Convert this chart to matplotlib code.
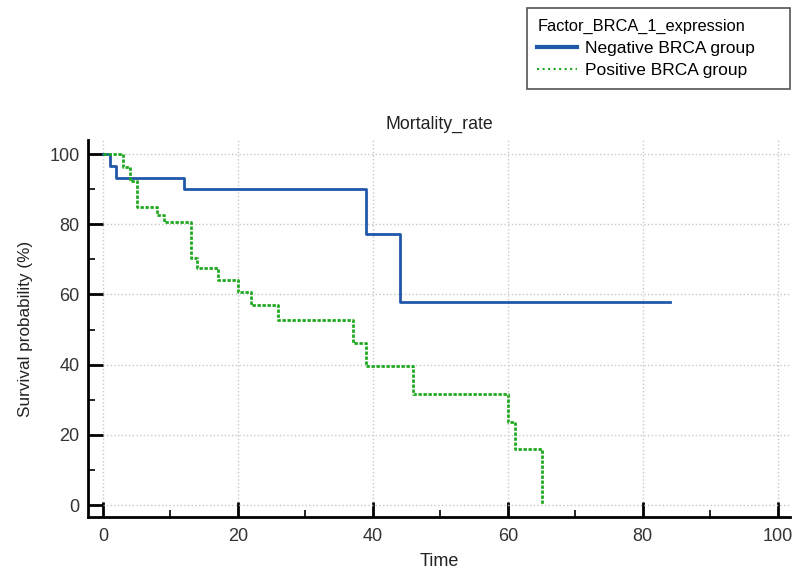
import matplotlib
matplotlib.use("Agg")
import matplotlib.pyplot as plt

plt.rcParams['font.family'] = ['Liberation Sans', 'DejaVu Sans']

# Kaplan-Meier steps
neg_time = [0, 1, 2, 12, 39, 44, 84]
neg_surv = [100, 96.7, 93.3, 90.0, 77.1, 57.8, 57.8]

pos_time = [0, 3, 4, 5, 8, 9, 13, 14, 17, 20, 22, 26, 37, 39, 46, 60, 61, 65]
pos_surv = [100, 96.2, 92.3, 84.9, 82.7, 80.5, 70.5, 67.5, 64.1, 60.6, 57.0,
            52.7, 46.3, 39.6, 31.7, 23.7, 15.9, 0]

x_ticks = [0, 20, 40, 60, 80, 100]
y_ticks = [0, 20, 40, 60, 80, 100]

fig = plt.figure(figsize=(7.94, 5.73), dpi=100)
ax = fig.add_axes([0.1108, 0.0977, 0.884, 0.658])

l1, = ax.step(neg_time, neg_surv, where='post', color='#2157a8', lw=2,
              label='Negative BRCA group')
l2, = ax.step(pos_time, pos_surv, where='post', color='#1fa81f', lw=2,
              ls=(0, (1.2, 0.6)), label='Positive BRCA group', clip_on=False)

ax.set_xlim(-2.2, 101.8)
ax.set_ylim(-3.4, 104)
ax.set_xticks(x_ticks)
ax.set_yticks(y_ticks)
ax.set_xticks([10, 30, 50, 70, 90], minor=True)
ax.set_yticks([10, 30, 50, 70, 90], minor=True)
ax.tick_params(which='major', direction='in', length=11, width=2, labelsize=13,
               labelcolor='#333333')
ax.tick_params(which='minor', direction='in', length=5, width=1.2)
ax.tick_params(axis='x', which='major', pad=8)
ax.tick_params(axis='y', which='major', pad=6)
for s in ['top', 'right']:
    ax.spines[s].set_visible(False)
for s in ['left', 'bottom']:
    ax.spines[s].set_linewidth(2)

ax.grid(True, which='major', color='#c8c8c8', ls=':', lw=1)
ax.set_axisbelow(True)

ax.set_title('Mortality_rate', fontsize=12.8, color='#222222', pad=8)
ax.set_xlabel('Time', fontsize=13, color='#222222', labelpad=6)
ax.set_ylabel('Survival probability (%)', fontsize=12.3, color='#222222', labelpad=12)

leg = fig.legend(handles=[l1, l2], title='Factor_BRCA_1_expression',
                 loc='upper left', bbox_to_anchor=(527 / 794, 1 - 8 / 573, 263 / 794, 0),
                 mode='expand',
                 fontsize=12.5, title_fontsize=11.8, alignment='left',
                 fancybox=False, edgecolor='#555555', framealpha=1,
                 handlelength=2.3, handletextpad=0.45, borderpad=0.6,
                 labelspacing=0.42, borderaxespad=0)
leg.get_frame().set_linewidth(1.2)
leg.legend_handles[0].set_linewidth(3)
leg.legend_handles[1].set_linestyle(':')
leg.legend_handles[1].set_linewidth(1.5)

fig.savefig('out.png', dpi=100)
